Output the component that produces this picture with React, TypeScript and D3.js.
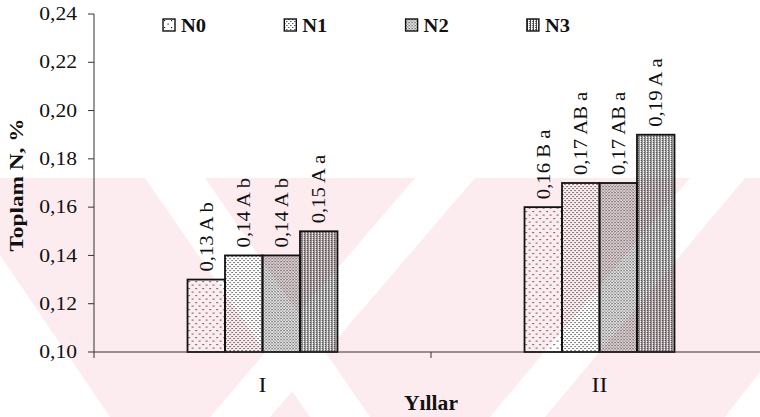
import React from "react"
import * as d3 from "d3"

// data
const years = ["I", "II"]
const seriesNames = ["N0", "N1", "N2", "N3"]
const n0 = [0.13, 0.16]
const n1 = [0.14, 0.17]
const n2 = [0.14, 0.17]
const n3 = [0.15, 0.19]
const n0Labels = ["0,13 A b", "0,16 B a"]
const n1Labels = ["0,14 A b", "0,17 AB a"]
const n2Labels = ["0,14 A b", "0,17 AB a"]
const n3Labels = ["0,15 A a", "0,19 A a"]
const yTicks = [0.1, 0.12, 0.14, 0.16, 0.18, 0.2, 0.22, 0.24]

const W = 760
const H = 417
const left = 94
const right = 768
const top = 14
const bottom = 352

const serif = "'Liberation Serif', 'Times New Roman', serif"

// faint watermark behind the plot
const wmPink = "#fdecef"
const wmWhite = [
  "0,255 0,417 110,417",
  "145,178 205,178 370,417 310,417",
  "210,417 270,417 475,178 415,178",
  "490,417 545,417 745,178 690,178",
  "725,417 760,417 760,372",
]

const fmt = (v: number) => d3.format(".2f")(v).replace(".", ",")

const rows = years.map((year, i) => ({
  year,
  values: [n0[i], n1[i], n2[i], n3[i]],
  labels: [n0Labels[i], n1Labels[i], n2Labels[i], n3Labels[i]],
}))

const patternIds = ["pN0", "pN1", "pN2", "pN3"]

const Stretch = ({ x, y, k, rotate = 0, children, ...rest }: any) => (
  <text
    transform={`translate(${x},${y}) rotate(${rotate}) scale(${k},1)`}
    fontFamily={serif}
    style={{ whiteSpace: "pre" }}
    {...rest}
  >
    {children}
  </text>
)

export default function App() {
  const x0 = d3.scaleBand().domain(years).range([left, right]).paddingInner(0.555).paddingOuter(0.2775)
  const x1 = d3.scaleBand().domain(seriesNames).range([0, x0.bandwidth()])
  const y = d3.scaleLinear().domain([0.1, 0.24]).range([bottom, top])

  const boundaries = [left, ...years.map(yr => (x0(yr) as number) + x0.bandwidth() + x0.step() * 0.2775)]

  return (
    <svg width={W} height={H} style={{ position: "absolute", left: 0, top: 0, background: "#fff" }}>
      <defs>
        <pattern id="pN0" width="7" height="7" patternUnits="userSpaceOnUse">
          <rect x="1" y="1" width="1.2" height="1.2" fill="#222" />
          <rect x="4.5" y="4.5" width="1.2" height="1.2" fill="#222" />
        </pattern>
        <pattern id="pN1" width="4" height="4" patternUnits="userSpaceOnUse">
          <rect x="0" y="0" width="1.1" height="1.1" fill="#222" />
          <rect x="2" y="2" width="1.1" height="1.1" fill="#222" />
        </pattern>
        <pattern id="pN2" width="3" height="3" patternUnits="userSpaceOnUse">
          <rect x="0" y="0" width="1.2" height="1.2" fill="#333" />
          <rect x="1.5" y="1.5" width="1.2" height="1.2" fill="#333" />
        </pattern>
        <pattern id="pN3" width="3" height="2" patternUnits="userSpaceOnUse">
          <rect x="0" y="0" width="1" height="2" fill="#333" />
          <rect x="2" y="0" width="0.9" height="1" fill="#666" />
        </pattern>
      </defs>

      <rect x={0} y={178} width={W} height={H - 178} fill={wmPink} />
      {wmWhite.map((pts, i) => (
        <polygon key={i} points={pts} fill="#fff" />
      ))}

      {/* bars */}
      {rows.map(r => (
        <g key={r.year} transform={`translate(${x0(r.year)},0)`}>
          {r.values.map((v, j) => (
            <g key={j}>
              <rect
                x={x1(seriesNames[j])}
                y={y(v)}
                width={x1.bandwidth()}
                height={bottom - y(v)}
                fill={`url(#${patternIds[j]})`}
                stroke="#111"
                strokeWidth={1.8}
              />
              <Stretch
                x={(x1(seriesNames[j]) as number) + x1.bandwidth() / 2}
                y={y(v) - 8}
                k={1.15}
                rotate={-90}
                dy="0.35em"
                fontSize={18}
                fill="#111"
              >
                {r.labels[j]}
              </Stretch>
            </g>
          ))}
        </g>
      ))}

      {/* y axis */}
      <line x1={left} x2={left} y1={top} y2={bottom} stroke="#333" strokeWidth={1} />
      {yTicks.map(t => (
        <g key={t}>
          <line x1={left - 6} x2={left} y1={y(t)} y2={y(t)} stroke="#333" strokeWidth={1} />
          <Stretch x={77} y={y(t)} k={1.2} dy="0.34em" textAnchor="end" fontSize={18} fill="#111">
            {fmt(t)}
          </Stretch>
        </g>
      ))}

      {/* x axis */}
      <line x1={left} x2={right} y1={bottom} y2={bottom} stroke="#333" strokeWidth={1} />
      {boundaries.map((b, i) => (
        <line key={i} x1={b} x2={b} y1={bottom} y2={bottom + 6} stroke="#333" strokeWidth={1} />
      ))}
      {years.map(yr => (
        <Stretch
          key={yr}
          x={(x0(yr) as number) + x0.bandwidth() / 2}
          y={392}
          k={1.2}
          textAnchor="middle"
          fontSize={20}
          fill="#111"
        >
          {yr}
        </Stretch>
      ))}

      <Stretch x={(left + right) / 2} y={410} k={1.08} textAnchor="middle" fontSize={20} fontWeight="bold" fill="#111">
        Yıllar
      </Stretch>
      <Stretch x={23} y={185} k={1.26} rotate={-90} textAnchor="middle" fontSize={18.5} fontWeight="bold" fill="#111">
        Toplam N, %
      </Stretch>

      {/* legend */}
      {seriesNames.map((s, i) => (
        <g key={s} transform={`translate(${163 + i * 121.3},19)`}>
          <rect x={0} y={0} width={12} height={12} fill={`url(#${patternIds[i]})`} stroke="#111" strokeWidth={1.4} />
          <Stretch x={18} y={13} k={1.14} fontSize={18} fontWeight="bold" fill="#111">
            {s}
          </Stretch>
        </g>
      ))}
    </svg>
  )
}
